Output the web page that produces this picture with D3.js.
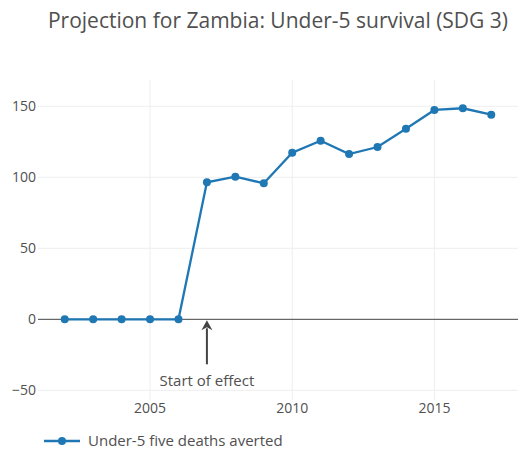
<!DOCTYPE html>
<html>
<head>
<meta charset="utf-8">
<script src="https://cdn.jsdelivr.net/npm/d3@7"></script>
<style>
  body { margin: 0; background: #fff; }
  text { font-family: "Open Sans", sans-serif; fill: #505050; }
</style>
</head>
<body>
<div id="container"></div>
<script>
  var years = [2002, 2003, 2004, 2005, 2006, 2007, 2008, 2009, 2010, 2011, 2012, 2013, 2014, 2015, 2016, 2017];
  var averted = [0, 0, 0, 0, 0, 96.5, 100.4, 95.8, 117.3, 125.8, 116.4, 121.3, 134.2, 147.4, 148.6, 144.1];
  var xTicks = [2005, 2010, 2015];
  var yTicks = [-50, 0, 50, 100, 150];
  var effectYear = 2007;

  var width = 518;
  var height = 456;
  var margin = {top: 80, right: 0, bottom: 56, left: 38};

  var svg = d3.select("#container").append("svg")
    .attr("width", width)
    .attr("height", height);

  var x = d3.scaleLinear()
    .domain([2001.06, 2017.94])
    .range([margin.left, width - margin.right]);

  var y = d3.scaleLinear()
    .domain([-56.8, 168.5])
    .range([height - margin.bottom, margin.top]);

  // grid
  svg.append("g").selectAll("line")
    .data(xTicks).enter().append("line")
    .attr("x1", function(d) { return x(d); })
    .attr("x2", function(d) { return x(d); })
    .attr("y1", margin.top)
    .attr("y2", height - margin.bottom)
    .attr("stroke", "#eee");

  svg.append("g").selectAll("line")
    .data(yTicks.filter(function(d) { return d != 0; })).enter().append("line")
    .attr("x1", margin.left)
    .attr("x2", width - margin.right)
    .attr("y1", function(d) { return y(d); })
    .attr("y2", function(d) { return y(d); })
    .attr("stroke", "#eee");

  // zero line
  svg.append("line")
    .attr("x1", margin.left)
    .attr("x2", width - margin.right)
    .attr("y1", y(0))
    .attr("y2", y(0))
    .attr("stroke", "#444")
    .attr("stroke-width", 1);

  // tick labels
  svg.append("g").selectAll("text")
    .data(yTicks).enter().append("text")
    .attr("x", margin.left - 2)
    .attr("y", function(d) { return y(d); })
    .attr("dy", "0.36em")
    .attr("text-anchor", "end")
    .attr("font-size", 14)
    .text(function(d) { return d < 0 ? "\u2212" + Math.abs(d) : d; });

  svg.append("g").selectAll("text")
    .data(xTicks).enter().append("text")
    .attr("x", function(d) { return x(d); })
    .attr("y", 413)
    .attr("text-anchor", "middle")
    .attr("font-size", 14)
    .text(function(d) { return d; });

  // series
  var line = d3.line()
    .x(function(d, i) { return x(years[i]); })
    .y(function(d) { return y(d); });

  svg.append("path")
    .datum(averted)
    .attr("d", line)
    .attr("fill", "none")
    .attr("stroke", "#1f77b4")
    .attr("stroke-width", 2.3);

  svg.append("g").selectAll("circle")
    .data(averted).enter().append("circle")
    .attr("cx", function(d, i) { return x(years[i]); })
    .attr("cy", function(d) { return y(d); })
    .attr("r", 4)
    .attr("fill", "#1f77b4");

  // annotation
  var ax = x(effectYear);
  svg.append("line")
    .attr("x1", ax).attr("x2", ax)
    .attr("y1", y(0) + 45).attr("y2", y(0) + 9)
    .attr("stroke", "#444")
    .attr("stroke-width", 2);
  svg.append("path")
    .attr("d", "M" + ax + "," + (y(0) + 1) + "L" + (ax - 5.5) + "," + (y(0) + 11) + "L" + ax + "," + (y(0) + 8) + "L" + (ax + 5.5) + "," + (y(0) + 11) + "Z")
    .attr("fill", "#444");
  svg.append("text")
    .attr("x", ax)
    .attr("y", y(0) + 67)
    .attr("text-anchor", "middle")
    .attr("font-size", 15)
    .text("Start of effect");

  // title
  svg.append("text")
    .attr("x", (margin.left + width - margin.right) / 2)
    .attr("y", 28)
    .attr("text-anchor", "middle")
    .attr("font-size", 21)
    .text("Projection for Zambia: Under-5 survival (SDG 3)");

  // legend
  var legend = svg.append("g").attr("transform", "translate(44,441)");
  legend.append("line")
    .attr("x1", 0).attr("x2", 36)
    .attr("stroke", "#1f77b4")
    .attr("stroke-width", 2.3);
  legend.append("circle")
    .attr("cx", 18).attr("r", 4)
    .attr("fill", "#1f77b4");
  legend.append("text")
    .attr("x", 44)
    .attr("dy", "0.36em")
    .attr("font-size", 15)
    .text("Under-5 five deaths averted");
</script>
</body>
</html>
